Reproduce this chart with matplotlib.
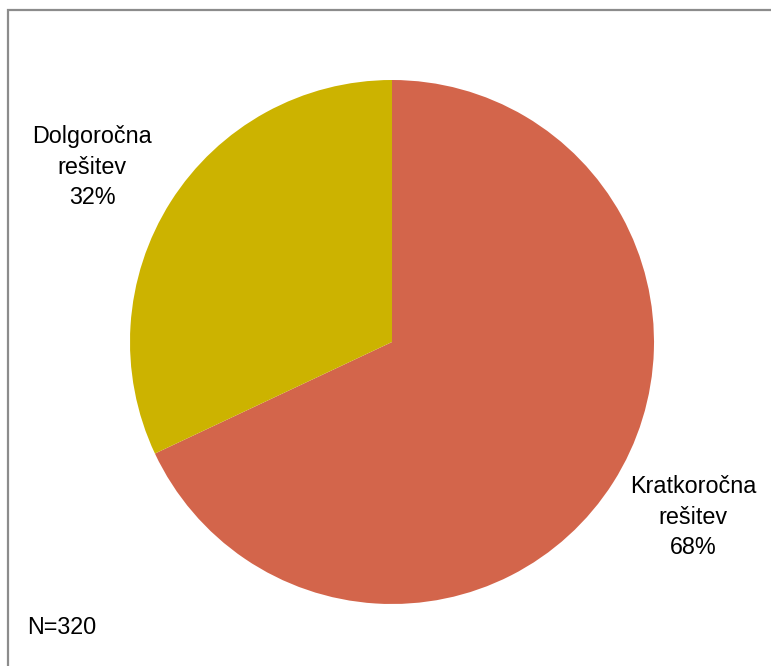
import numpy as np
import matplotlib
matplotlib.use('Agg')
import matplotlib.pyplot as plt
import matplotlib.patches as patches

plt.rcParams['font.family'] = ['Liberation Sans', 'DejaVu Sans']

# deleži odgovorov
labels = ['Kratkoročna\nrešitev', 'Dolgoročna\nrešitev']
shares = [68, 32]
colors = ['#D3654B', '#CCB300']
n_total = 320

W, H = 771, 666
fig = plt.figure(figsize=(W / 100, H / 100), dpi=100)
ax = fig.add_axes([0, 0, 1, 1])

cx, cy, r = 392, H - 342, 262
ax.pie(shares, colors=colors, startangle=90, counterclock=False,
       center=(cx, cy), radius=r, frame=True,
       wedgeprops=dict(linewidth=0))
ax.set_xlim(0, W)
ax.set_ylim(0, H)
ax.axis('off')

# oznake izven kroga
label_pos = [(693, H - 517), (92, H - 167)]
for lab, val, (x, y) in zip(labels, shares, label_pos):
    ax.text(x, y, f'{lab}\n{val}%', ha='center', va='center',
            fontsize=16.8, linespacing=1.4, color='black')

ax.text(27, H - 627, f'N={n_total}', ha='left', va='center', fontsize=16.8)

# okvir okoli grafa
fig.patches.append(patches.Rectangle((8 / W, -0.1), 1.2, (H - 10) / H + 0.1,
                                     transform=fig.transFigure, fill=False,
                                     edgecolor='#8C8C8C', linewidth=1.6))

fig.savefig('out.png', dpi=100)
